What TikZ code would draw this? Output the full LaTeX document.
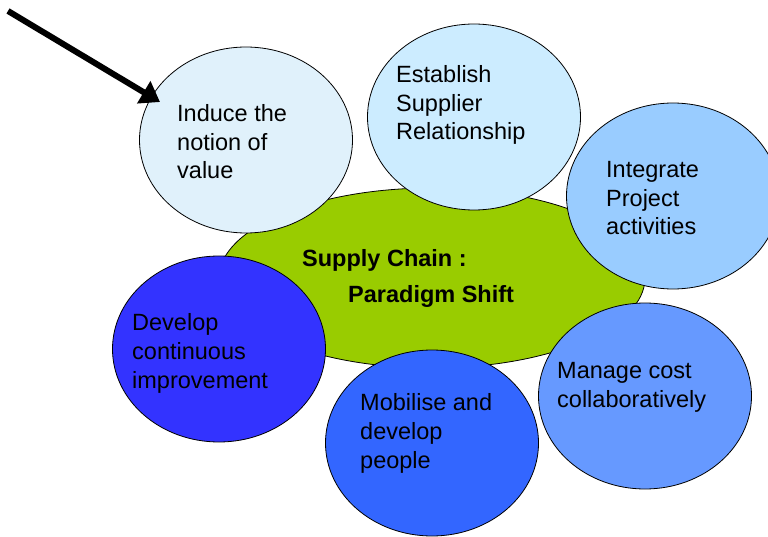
\documentclass[tikz,border=0pt]{standalone}
\usepackage{fontspec}
\setmainfont{Liberation Sans}
\usetikzlibrary{shapes.geometric,arrows.meta}
\definecolor{core}{HTML}{99CC00}
\definecolor{cA}{HTML}{E0F1FB}
\definecolor{cB}{HTML}{CCECFF}
\definecolor{cC}{HTML}{99CCFF}
\definecolor{cD}{HTML}{6699FF}
\definecolor{cE}{HTML}{3366FF}
\definecolor{cF}{HTML}{3333FF}
\begin{document}
\begin{tikzpicture}[x=1pt,y=-1pt,
    blob/.style={ellipse,draw=black,line width=0.8pt,minimum width=213pt,minimum height=186pt,inner sep=0pt},
    txt/.style={anchor=base west,align=left,inner sep=0pt,font=\fontsize{23.5}{28.7}\selectfont}]
    \useasboundingbox (0,0) rectangle (768,537);
    
    \node[blob,fill=core,minimum width=426pt,minimum height=180pt] (O) at (432,278) {};
    
    \node[blob,fill=cA] (A) at (246,140) {};
    \node[blob,fill=cB] (B) at (474,117) {};
    \node[blob,fill=cC] (C) at (673,196) {};
    \node[blob,fill=cD] (D) at (645,396) {};
    \node[blob,fill=cE] (E) at (432,443) {};
    \node[blob,fill=cF] (F) at (219,349) {};
    
    % base = last line
    \node[txt] (A1) at (177,179) {Induce the\\notion of\\value};
    \node[txt] (B1) at (396,140) {Establish\\Supplier\\Relationship};
    \node[txt] (C1) at (606,235) {Integrate\\Project\\activities};
    \node[txt] (D1) at (557,407) {Manage cost\\collaboratively};
    \node[txt] (E1) at (360,468) {Mobilise and\\develop\\people};
    \node[txt] (F1) at (132,388) {Develop\\continuous\\improvement};
    
    \node[txt,font=\bfseries\fontsize{23.5}{28.7}\selectfont] (O1) at (302,267) {Supply Chain :};
    \node[txt,font=\bfseries\fontsize{23.5}{28.7}\selectfont] (O2) at (348,302) {Paradigm Shift};
    
    \coordinate (S1) at (8,11);
    \coordinate (S2) at (160,102);
    \draw[-{Triangle[length=19pt,width=25pt]},line width=6pt] (S1) -- (S2);
    
\end{tikzpicture}
\end{document}
